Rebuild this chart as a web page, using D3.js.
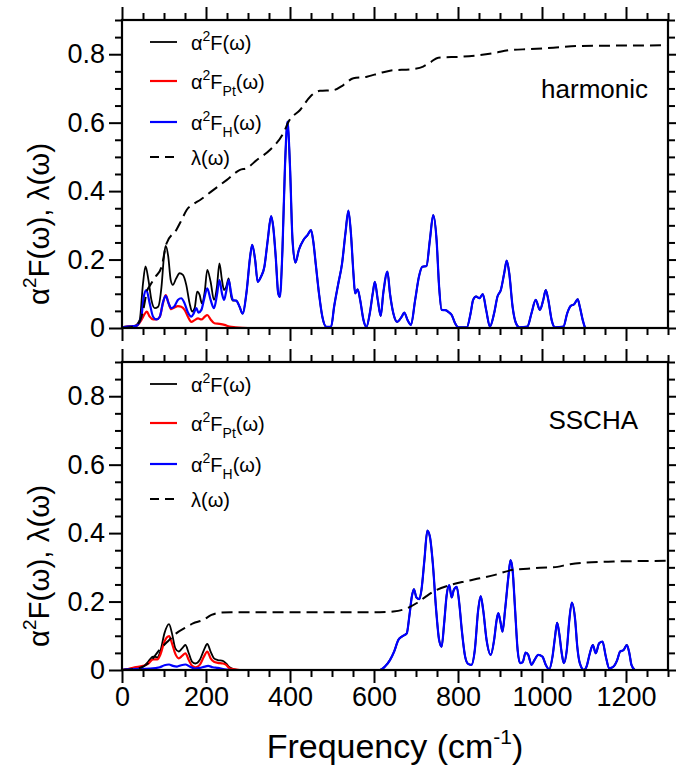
<!DOCTYPE html>
<html>
<head>
<meta charset="utf-8">
<script src="https://cdnjs.cloudflare.com/ajax/libs/d3/7.8.5/d3.min.js"></script>
<style>
  body { margin: 0; background: #fff; }
  svg { display: block; font-family: "Liberation Sans", Arial, sans-serif; }
  .axis path { display: none; }
  .axis line { stroke: #000; stroke-width: 2; }
  .axis text { font-size: 27px; fill: #000; font-family: "Liberation Sans", Arial, sans-serif; }
  .curve { fill: none; stroke-linejoin: round; }
</style>
</head>
<body>
<div id="chart"></div>
<script>
/* global d3 */

// ---- data: [frequency (cm^-1), value] ----
const freqMajor = [0, 200, 400, 600, 800, 1000, 1200];
const valueMajor = [0, 0.2, 0.4, 0.6, 0.8];

// harmonic panel
const harmTotalLow = [[0,0],[6,0.004],[30,0.006],[42,0.023],[50,0.13],[56,0.18],[63,0.14],[70,0.082],[78,0.058],[86,0.062],[94,0.12],[100,0.21],[104,0.24],[110,0.21],[116,0.14],[121,0.126],[129,0.145],[137,0.16],[145,0.155],[153,0.126],[161,0.072],[167,0.048],[173,0.058],[179,0.106],[185,0.096],[190,0.072],[197,0.106],[203,0.17],[211,0.135],[219,0.082],[226,0.12],[232,0.189],[238,0.14],[243,0.111],[248,0.12],[254,0.145],[260,0.092],[264,0.08]];
const harmPt = [[0,0],[6,0.003],[34,0.006],[46,0.023],[54,0.041],[59,0.048],[66,0.033],[74,0.025],[82,0.025],[90,0.033],[97,0.07],[104,0.096],[111,0.072],[117,0.055],[125,0.06],[133,0.064],[141,0.062],[149,0.053],[157,0.033],[165,0.018],[173,0.023],[181,0.028],[189,0.025],[197,0.033],[203,0.038],[211,0.025],[220,0.014],[232,0.012],[244,0.009],[256,0.004],[270,0.002],[300,0],[400,0]];
const harmH = [[0,0],[6,0.003],[34,0.006],[46,0.033],[52,0.092],[58,0.111],[66,0.072],[74,0.033],[82,0.025],[90,0.033],[98,0.077],[104,0.094],[111,0.072],[117,0.058],[125,0.064],[133,0.082],[141,0.087],[149,0.072],[157,0.045],[165,0.033],[171,0.043],[177,0.058],[182,0.045],[189,0.053],[195,0.082],[203,0.116],[211,0.082],[219,0.058],[226,0.096],[232,0.14],[238,0.101],[243,0.082],[248,0.106],[254,0.14],[260,0.101],[264,0.082],[272,0.08],[280,0.062],[287,0.042],[297,0.11],[305,0.208],[310,0.243],[317,0.199],[323,0.135],[331,0.15],[339,0.179],[347,0.257],[355,0.327],[360,0.296],[366,0.208],[372,0.101],[376,0.091],[382,0.228],[388,0.471],[394,0.603],[400,0.471],[406,0.257],[413,0.191],[421,0.228],[432,0.257],[442,0.272],[450,0.286],[455,0.257],[462,0.179],[469,0.101],[477,0.033],[487,0.003],[498,0.004],[505,0.062],[515,0.13],[524,0.189],[532,0.277],[539,0.343],[545,0.277],[551,0.16],[555,0.101],[561,0.113],[567,0.082],[575,0.023],[582,0.003],[590,0.043],[597,0.101],[602,0.135],[609,0.082],[616,0.035],[622,0.101],[632,0.165],[638,0.101],[646,0.043],[655,0.018],[666,0.033],[672,0.045],[680,0.023],[688,0.009],[698,0.082],[707,0.15],[715,0.179],[725,0.181],[733,0.257],[741,0.33],[749,0.257],[755,0.121],[761,0.053],[770,0.052],[778,0.046],[785,0.038],[793,0.014],[801,0.002],[821,0.002],[830,0.043],[836,0.082],[843,0.092],[851,0.087],[859,0.099],[867,0.053],[876,0.004],[886,0.043],[894,0.092],[902,0.111],[910,0.16],[916,0.197],[922,0.16],[930,0.062],[938,0.014],[946,0.002],[965,0.004],[975,0.043],[985,0.082],[995,0.053],[1003,0.082],[1009,0.111],[1015,0.082],[1023,0.023],[1031,0.002],[1051,0.004],[1060,0.043],[1068,0.064],[1077,0.07],[1085,0.084],[1090,0.062],[1097,0.023],[1102,0.002]];
const harmLambda = [[0,0],[20,0.002],[40,0.015],[50,0.05],[60,0.11],[67,0.125],[80,0.15],[94,0.178],[106,0.247],[130,0.288],[142,0.316],[154,0.345],[170,0.362],[186,0.374],[217,0.403],[249,0.432],[281,0.462],[297,0.467],[321,0.491],[352,0.52],[384,0.569],[398,0.606],[424,0.637],[448,0.676],[471,0.693],[503,0.695],[527,0.71],[551,0.73],[583,0.734],[614,0.745],[638,0.752],[694,0.757],[717,0.764],[735,0.777],[753,0.79],[813,0.793],[884,0.803],[924,0.812],[971,0.815],[1027,0.819],[1090,0.824],[1300,0.826]];

// SSCHA panel
const sschaTotalLow = [[0,0],[10,0.002],[30,0.005],[50,0.01],[62,0.024],[74,0.039],[84,0.037],[92,0.058],[101,0.107],[112,0.134],[119,0.107],[127,0.063],[135,0.054],[143,0.063],[151,0.073],[159,0.049],[167,0.024],[175,0.019],[185,0.029],[195,0.058],[203,0.076],[211,0.054],[219,0.034],[228,0.029],[240,0.027],[248,0.019],[256,0.008],[267,0.002],[280,0]];
const sschaPt = [[0,0],[10,0.002],[30,0.008],[50,0.012],[62,0.018],[74,0.031],[84,0.031],[92,0.047],[101,0.083],[112,0.099],[119,0.078],[127,0.047],[135,0.034],[143,0.041],[151,0.049],[159,0.029],[167,0.012],[175,0.008],[185,0.015],[195,0.039],[203,0.054],[211,0.034],[219,0.024],[228,0.021],[240,0.019],[248,0.015],[256,0.005],[267,0.002],[280,0]];
const sschaH = [[0,0],[10,0.002],[67,0.004],[90,0.008],[101,0.014],[112,0.016],[121,0.012],[131,0.01],[141,0.014],[151,0.016],[161,0.01],[173,0.004],[185,0.006],[197,0.01],[205,0.012],[216,0.008],[228,0.006],[244,0.002],[260,0],[614,0],[626,0.01],[638,0.029],[648,0.054],[658,0.088],[668,0.099],[678,0.107],[684,0.156],[690,0.214],[695,0.236],[701,0.212],[708,0.207],[713,0.234],[720,0.321],[727,0.407],[733,0.39],[740,0.312],[748,0.175],[755,0.088],[761,0.068],[767,0.136],[773,0.219],[779,0.248],[785,0.212],[790,0.234],[797,0.243],[803,0.195],[809,0.117],[817,0.039],[824,0.018],[832,0.015],[840,0.058],[848,0.175],[854,0.216],[860,0.175],[868,0.088],[878,0.044],[886,0.088],[892,0.146],[896,0.166],[901,0.141],[906,0.112],[912,0.175],[920,0.273],[925,0.321],[930,0.292],[936,0.175],[942,0.058],[948,0.02],[954,0.023],[961,0.051],[967,0.045],[975,0.015],[982,0.029],[991,0.044],[1001,0.039],[1009,0.015],[1017,0.002],[1025,0.039],[1031,0.097],[1036,0.138],[1041,0.107],[1047,0.049],[1052,0.02],[1059,0.058],[1065,0.146],[1071,0.197],[1079,0.146],[1084,0.068],[1090,0.02],[1100,0],[1106,0.01],[1114,0.049],[1121,0.073],[1128,0.049],[1136,0.078],[1144,0.083],[1152,0.039],[1160,0.005],[1170,0.01],[1179,0.029],[1186,0.054],[1194,0.058],[1202,0.073],[1208,0.049],[1213,0.015],[1221,0]];
const sschaLambda = [[0,0],[30,0.003],[50,0.01],[67,0.025],[90,0.06],[110,0.085],[129,0.107],[150,0.123],[169,0.136],[193,0.146],[213,0.161],[236,0.168],[260,0.169],[300,0.169],[614,0.169],[646,0.171],[678,0.18],[701,0.195],[725,0.216],[749,0.234],[781,0.248],[813,0.258],[852,0.268],[888,0.278],[928,0.292],[955,0.295],[995,0.299],[1027,0.3],[1067,0.309],[1106,0.314],[1170,0.317],[1217,0.318],[1300,0.319]];

// total = low-frequency part + H part above it (Pt part has vanished there)
const harmTotal = harmTotalLow.concat(harmH.filter(d => d[0] > 264));
const sschaTotal = sschaTotalLow.concat(sschaH.filter(d => d[0] > 280));

((w, h) => {
  'use strict';

  const margin = { left: 122, right: w - 668 };
  const panels = [
    { top: 20, bottom: 328, total: harmTotal, pt: harmPt, hyd: harmH, lambda: harmLambda,
      tag: "harmonic", tagX: 648, tagY: 98, xLabels: false },
    { top: 362, bottom: 670, total: sschaTotal, pt: sschaPt, hyd: sschaH, lambda: sschaLambda,
      tag: "SSCHA", tagX: 638, tagY: 429, xLabels: true }
  ];

  const svg = d3.select("#chart").append("svg")
    .attr("width", w)
    .attr("height", h);

  const xScale = d3.scaleLinear().domain([0, 1300]).range([margin.left, w - margin.right]);
  const freqMinor = d3.range(0, 1301, 50).filter(v => v % 200 !== 0);
  const valueMinor = d3.range(0, 19).map(i => +(i * 0.05).toFixed(2)).filter(v => Math.round(v * 100) % 20 !== 0);
  const valueFmt = v => v === 0 ? "0" : v.toFixed(1);

  const series = [
    { key: "total", color: "#000", width: 1.8 },
    { key: "pt", color: "#ff0000", width: 2.2 },
    { key: "hyd", color: "#0000ff", width: 2.2 },
    { key: "lambda", color: "#000", width: 2, dash: "11,6" }
  ];

  panels.forEach(p => {
    const yScale = d3.scaleLinear().domain([0, 0.9]).range([p.bottom, p.top]);
    const g = svg.append("g");

    const line = d3.line()
      .x(d => xScale(d[0]))
      .y(d => yScale(d[1]))
      .curve(d3.curveMonotoneX);

    series.forEach(s => {
      g.append("path")
        .datum(p[s.key])
        .attr("class", "curve")
        .attr("d", line)
        .style("stroke", s.color)
        .style("stroke-width", s.width)
        .style("stroke-dasharray", s.dash || null);
    });

    // ticks on all four sides, pointing outwards
    const addTicks = (axis, values, size, transform, fmt) => {
      g.append("g")
        .attr("class", "axis")
        .attr("transform", transform)
        .call(axis.tickValues(values).tickSize(size).tickSizeOuter(0).tickPadding(4).tickFormat(fmt || ""));
    };
    addTicks(d3.axisBottom(xScale), freqMinor, 7, `translate(0,${p.bottom})`);
    addTicks(d3.axisBottom(xScale), freqMajor, 13, `translate(0,${p.bottom})`, p.xLabels ? d3.format("d") : null);
    addTicks(d3.axisTop(xScale), freqMinor, 7, `translate(0,${p.top})`);
    addTicks(d3.axisTop(xScale), freqMajor, 13, `translate(0,${p.top})`);
    addTicks(d3.axisLeft(yScale), valueMinor, 7, `translate(${margin.left},0)`);
    addTicks(d3.axisLeft(yScale), valueMajor, 13, `translate(${margin.left},0)`, valueFmt);
    addTicks(d3.axisRight(yScale), valueMinor, 7, `translate(${w - margin.right},0)`);
    addTicks(d3.axisRight(yScale), valueMajor, 13, `translate(${w - margin.right},0)`);

    g.append("rect")
      .attr("x", margin.left)
      .attr("y", p.top)
      .attr("width", w - margin.right - margin.left)
      .attr("height", p.bottom - p.top)
      .style("fill", "none")
      .style("stroke", "#000")
      .style("stroke-width", 2.2);

    // legend
    const legendRows = [22, 61, 102, 137];
    const legend = [
      { s: series[0], parts: [["α"], ["2", "sup"], ["F(ω)"]] },
      { s: series[1], parts: [["α"], ["2", "sup"], ["F"], ["Pt", "sub"], ["(ω)"]] },
      { s: series[2], parts: [["α"], ["2", "sup"], ["F"], ["H", "sub"], ["(ω)"]] },
      { s: series[3], parts: [["λ(ω)"]] }
    ];
    legend.forEach((item, i) => {
      const ly = p.top + legendRows[i];
      g.append("line")
        .attr("x1", 150).attr("x2", 177)
        .attr("y1", ly).attr("y2", ly)
        .style("stroke", item.s.color)
        .style("stroke-width", item.s.width)
        .style("stroke-dasharray", item.s.dash ? "9,6" : null);
      const t = g.append("text")
        .attr("x", 191)
        .attr("y", ly + 8)
        .style("font-size", "20px");
      let shift = 0;
      item.parts.forEach(([txt, kind]) => {
        const target = kind === "sup" ? -9 : kind === "sub" ? 7 : 0;
        t.append("tspan")
          .attr("dy", target - shift)
          .style("font-size", kind ? "14px" : null)
          .text(txt);
        shift = target;
      });
    });

    g.append("text")
      .attr("x", p.tagX)
      .attr("y", p.tagY)
      .attr("text-anchor", "end")
      .style("font-size", "26px")
      .text(p.tag);

    // y axis title
    const yt = svg.append("text")
      .attr("transform", `translate(49,${(p.top + p.bottom) / 2 + 50}) rotate(-90)`)
      .attr("text-anchor", "middle")
      .style("font-size", "29.5px");
    yt.append("tspan").text("α");
    yt.append("tspan").attr("dy", -13).style("font-size", "19px").text("2");
    yt.append("tspan").attr("dy", 13).text("F(ω), λ(ω)");
  });

  const xt = svg.append("text")
    .attr("x", (margin.left + w - margin.right) / 2)
    .attr("y", 758)
    .attr("text-anchor", "middle")
    .style("font-size", "34px");
  xt.append("tspan").text("Frequency (cm");
  xt.append("tspan").attr("dy", -14).style("font-size", "21px").text("-1");
  xt.append("tspan").attr("dy", 14).text(")");

})(676, 771);
</script>
</body>
</html>
